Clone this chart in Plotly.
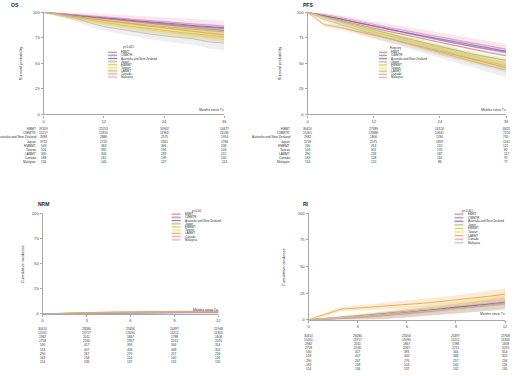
import plotly.graph_objects as go

W, H = 520, 376
FONT = "Liberation Sans, Arial, sans-serif"

REGISTRIES = ["EBMT", "CIBMTR", "Australia and New Zealand", "Japan", "EMBMT",
              "Taiwan", "LABMT", "Canada", "Malaysia"]
COLORS = ["#E8736C", "#7F86C9", "#8E5FA8", "#9DBF6A", "#C9C94A",
          "#F2D36B", "#E9A23B", "#E58FB8", "#B8B8B8"]

# ---------------- OS ----------------
OS_T = [0, 3, 6, 9, 12, 15, 18, 21, 24, 27, 30, 33, 36]
OS_EBMT = [100, 98.5, 96.5, 95, 93.5, 92, 90.5, 89, 87.5, 86, 84.5, 83, 82]
OS_CIBMTR = [100, 99, 97.5, 96, 94.5, 93, 91.5, 90, 89, 87.5, 86.5, 85, 84]
OS_ANZ = [100, 99, 97.5, 96, 95, 93.5, 92, 91, 89.5, 88.5, 87, 86, 85]
OS_JAPAN = [100, 98, 96, 94, 92, 90.5, 89, 87.5, 86, 84.5, 83, 82, 81]
OS_EMBMT = [100, 97.5, 95, 92.5, 90, 88, 86, 84, 82, 80.5, 79, 77.5, 76]
OS_TAIWAN = [100, 97, 94, 91.5, 89, 87, 85, 83, 81, 79.5, 78, 76.5, 75]
OS_LABMT = [100, 98, 96, 94, 92, 90, 88, 86.5, 85, 83, 81, 79.5, 78]
OS_CANADA = [100, 99, 98, 97, 95.5, 94.5, 93, 92, 91, 90, 89, 87.5, 86.5]
OS_MALAYSIA = [100, 98, 95, 90, 86, 83.5, 81, 79, 77, 75.5, 74, 71, 70]

# CI half-widths (percentage points)
HW_S = [0, 0.3, 0.4, 0.5, 0.5, 0.6, 0.6, 0.7, 0.7, 0.8, 0.8, 0.9, 1.0]
HW_M = [0, 0.6, 0.9, 1.1, 1.3, 1.5, 1.7, 1.8, 2.0, 2.1, 2.2, 2.4, 2.5]
HW_L = [0, 1.5, 2.0, 2.5, 3.0, 3.3, 3.6, 3.9, 4.2, 4.4, 4.6, 4.8, 5.0]
HW_XL = [0, 2.0, 3.0, 3.5, 4.0, 4.3, 4.6, 5.0, 5.3, 5.6, 6.0, 6.5, 7.0]

OS_RISK_T = [0, 12, 24, 36]
OS_RISK = [
    [37459, 25253, 16902, 14477],
    [15217, 13310, 11963, 11536],
    [3398, 2886, 2575, 1954],
    [3722, 2720, 2361, 1784],
    [543, 363, 306, 208],
    [524, 395, 196, 103],
    [330, 306, 283, 215],
    [188, 161, 139, 130],
    [156, 146, 127, 113],
]

# ---------------- PFS ----------------
PFS_T = OS_T
PFS_EBMT = [100, 96, 92, 88, 84.5, 81, 77.5, 74, 70.5, 67, 63.5, 60.5, 57.5]
PFS_CIBMTR = [100, 97, 93.5, 90, 86.5, 83, 79.5, 76, 73, 69.5, 66.5, 63.5, 61]
PFS_ANZ = [100, 97, 93.5, 90, 86.5, 83, 80, 77, 74, 71, 68, 65, 62]
PFS_JAPAN = [100, 95.5, 91, 87, 83, 78.5, 74.5, 70.5, 66.5, 62.5, 59, 56, 53]
PFS_EMBMT = [100, 95, 90, 85.5, 81, 76.5, 72, 67.5, 63, 59, 55, 51.5, 48]
PFS_TAIWAN = [100, 95, 90, 85, 80, 76, 72, 68, 64, 60, 56, 52, 49]
PFS_LABMT = [100, 88, 85, 81.5, 78, 74, 70, 66, 62, 58, 54, 50, 46]
PFS_CANADA = [100, 98, 95, 91.5, 88, 85, 82, 79, 76, 73, 70, 67, 64]
PFS_MALAYSIA = [100, 93, 88, 83, 78.5, 74, 69.5, 65, 60.5, 56, 51.5, 47.5, 43.5]

PFS_RISK_T = [0, 12, 24, 36]
PFS_RISK = [
    [30410, 27389, 14124, 8425],
    [15201, 13388, 10641, 7270],
    [2982, 1806, 1196, 730],
    [2758, 2575, 1859, 1141],
    [530, 314, 219, 125],
    [518, 301, 176, 82],
    [290, 258, 187, 117],
    [163, 128, 116, 97],
    [154, 120, 86, 77],
]

# ---------------- NRM ----------------
CI_T = [0, 1, 2, 3, 4, 5, 6, 7, 8, 9, 10, 11, 12]
NRM_EBMT = [0, 0.3, 0.5, 0.7, 0.9, 1.0, 1.2, 1.3, 1.4, 1.5, 1.6, 1.7, 1.8]
NRM_CIBMTR = [0, 0.2, 0.4, 0.6, 0.7, 0.9, 1.0, 1.1, 1.2, 1.3, 1.4, 1.5, 1.6]
NRM_ANZ = [0, 0.2, 0.4, 0.5, 0.7, 0.8, 0.9, 1.0, 1.1, 1.2, 1.3, 1.4, 1.5]
NRM_JAPAN = [0, 0.3, 0.6, 0.8, 1.0, 1.1, 1.3, 1.4, 1.5, 1.6, 1.7, 1.8, 1.9]
NRM_EMBMT = [0, 0.5, 0.9, 1.2, 1.4, 1.6, 1.8, 1.9, 2.0, 2.1, 2.2, 2.3, 2.4]
NRM_TAIWAN = [0, 0.4, 0.8, 1.0, 1.2, 1.4, 1.5, 1.6, 1.7, 1.8, 1.9, 2.0, 2.1]
NRM_LABMT = [0, 0.5, 0.9, 1.2, 1.5, 1.7, 1.9, 2.1, 2.2, 2.3, 2.4, 2.5, 2.6]
NRM_CANADA = [0, 0.2, 0.4, 0.6, 0.8, 1.0, 1.1, 1.2, 1.3, 1.4, 1.5, 1.6, 1.7]
NRM_MALAYSIA = [0, 0.3, 0.6, 0.9, 1.1, 1.3, 1.5, 1.6, 1.8, 1.9, 2.0, 2.1, 2.2]
HW_NRM = [0, 0.3, 0.4, 0.5, 0.6, 0.7, 0.8, 0.8, 0.9, 0.9, 1.0, 1.0, 1.1]

CI_RISK_T = [0, 3, 6, 9, 12]
CI_RISK = [
    [30410, 28280, 25656, 24497, 21908],
    [15201, 13717, 13090, 11212, 11303],
    [2982, 2011, 1867, 1788, 1608],
    [2758, 2530, 2367, 2213, 2070],
    [530, 417, 393, 344, 314],
    [518, 407, 406, 348, 302],
    [290, 267, 276, 257, 234],
    [163, 158, 154, 140, 126],
    [154, 136, 137, 132, 130],
]

# ---------------- RI ----------------
RI_EBMT = [0, 0.5, 1.5, 2.5, 4, 5.5, 7, 8, 9.5, 11, 12.5, 14, 15.5]
RI_CIBMTR = [0, 1, 2, 3.5, 5, 6.5, 8, 9, 10.5, 12, 13, 14.5, 16]
RI_ANZ = [0, 0.5, 1.5, 3, 4.5, 6, 7.5, 9, 10, 11.5, 13, 14.5, 16]
RI_JAPAN = [0, 0.5, 1.5, 2.5, 3.5, 5, 6, 7.5, 9, 10.5, 12, 13.5, 15]
RI_EMBMT = [0, 0.5, 1, 2, 3, 4.5, 6, 7.5, 9, 10.5, 12, 13.5, 15]
RI_TAIWAN = [0, 1, 2, 3, 4.5, 6, 7.5, 9, 11, 13, 15, 17, 20]
RI_LABMT = [0, 5, 10, 11, 12, 13, 14, 15.5, 17, 18.5, 20, 22, 24]
RI_CANADA = [0, 0, 1, 2, 3, 4, 5.5, 7, 8.5, 10, 12, 14, 16]
RI_MALAYSIA = [0, 0.5, 1.5, 2.5, 3.5, 5, 6.5, 8, 9, 10.5, 12, 13.5, 14.5]
HW_RI_S = [0, 0.3, 0.5, 0.6, 0.7, 0.8, 0.9, 1.0, 1.1, 1.2, 1.3, 1.4, 1.5]
HW_RI_L = [0, 1.5, 2.0, 2.5, 3.0, 3.3, 3.6, 3.9, 4.2, 4.5, 4.8, 5.2, 5.5]

PANELS = [
    dict(name="OS", t=OS_T,
         est=[OS_EBMT, OS_CIBMTR, OS_ANZ, OS_JAPAN, OS_EMBMT, OS_TAIWAN, OS_LABMT, OS_CANADA, OS_MALAYSIA],
         hw=[HW_S, HW_S, HW_M, HW_M, HW_L, HW_L, HW_L, HW_L, HW_XL],
         risk_t=OS_RISK_T, risk=OS_RISK, xticks=[0, 12, 24, 36],
         ytitle="Survival probability", ptext="p<0.001"),
    dict(name="PFS", t=PFS_T,
         est=[PFS_EBMT, PFS_CIBMTR, PFS_ANZ, PFS_JAPAN, PFS_EMBMT, PFS_TAIWAN, PFS_LABMT, PFS_CANADA, PFS_MALAYSIA],
         hw=[HW_S, HW_S, HW_M, HW_M, HW_L, HW_L, HW_L, HW_L, HW_XL],
         risk_t=PFS_RISK_T, risk=PFS_RISK, xticks=[0, 12, 24, 36],
         ytitle="Survival probability", ptext="Registry"),
    dict(name="NRM", t=CI_T,
         est=[NRM_EBMT, NRM_CIBMTR, NRM_ANZ, NRM_JAPAN, NRM_EMBMT, NRM_TAIWAN, NRM_LABMT, NRM_CANADA, NRM_MALAYSIA],
         hw=[HW_NRM] * 9,
         risk_t=CI_RISK_T, risk=CI_RISK, xticks=[0, 3, 6, 9, 12],
         ytitle="Cumulative incidence", ptext="p<0.01"),
    dict(name="RI", t=CI_T,
         est=[RI_EBMT, RI_CIBMTR, RI_ANZ, RI_JAPAN, RI_EMBMT, RI_TAIWAN, RI_LABMT, RI_CANADA, RI_MALAYSIA],
         hw=[HW_RI_S, HW_RI_S, HW_RI_S, HW_RI_S, HW_RI_L, HW_RI_L, HW_RI_L, HW_RI_L, HW_RI_L],
         risk_t=CI_RISK_T, risk=CI_RISK, xticks=[0, 3, 6, 9, 12],
         ytitle="Cumulative incidence", ptext="p<0.001"),
]

# pixel layout per panel
GEOM = [
    dict(l=43, r=225, t=9.5, b=113, title=(8, 2), ytx=20,
         risk_y=(128, 161), labels=True, lab_x=37, months=(227, 108),
         leg=dict(p=(128, 45), y0=50, y1=75, lx0=108, lx1=117, tx=119)),
    dict(l=309, r=509, t=9.5, b=113, title=(302, 2), ytx=281,
         risk_y=(128, 161), labels=True, lab_x=293, months=(511, 108),
         leg=dict(p=(398, 46), y0=50, y1=75.5, lx0=381, lx1=389, tx=391)),
    dict(l=42, r=219, t=213, b=315, title=(35, 204), ytx=22,
         risk_y=(330, 364), labels=False, lab_x=0, months=(221, 311),
         leg=dict(p=(198, 211), y0=214, y1=240, lx0=172, lx1=181, tx=183)),
    dict(l=310, r=508, t=213, b=321, title=(302, 204), ytx=285,
         risk_y=(337, 371), labels=False, lab_x=0, months=(510, 315),
         leg=dict(p=(470, 211), y0=214, y1=243, lx0=457, lx1=466, tx=469)),
]


def px(x):
    return x / W


def py(y):
    return 1 - y / H


def rgba(hexc, a):
    h = hexc.lstrip("#")
    return "rgba(%d,%d,%d,%g)" % (int(h[0:2], 16), int(h[2:4], 16), int(h[4:6], 16), a)


fig = go.Figure()
ann = []
shapes = []
AX = "#a8a8a8"
TXT = "#4d4d4d"

for i, (p, g) in enumerate(zip(PANELS, GEOM)):
    k = "" if i == 0 else str(i + 1)
    xa, ya = "x" + k, "y" + k
    xmax = p["xticks"][-1]
    for j, (est, hw) in enumerate(zip(p["est"], p["hw"])):
        lo = [max(0, e - h) for e, h in zip(est, hw)]
        hi = [min(100, e + h) for e, h in zip(est, hw)]
        fig.add_trace(go.Scatter(x=p["t"], y=lo, xaxis=xa, yaxis=ya, mode="lines",
                                 line=dict(width=0, color=COLORS[j]), showlegend=False,
                                 hoverinfo="skip"))
        fig.add_trace(go.Scatter(x=p["t"], y=hi, xaxis=xa, yaxis=ya, mode="lines",
                                 line=dict(width=0, color=COLORS[j]), fill="tonexty",
                                 fillcolor=rgba(COLORS[j], 0.22), showlegend=False,
                                 hoverinfo="skip"))
    for j, est in enumerate(p["est"]):
        fig.add_trace(go.Scatter(x=p["t"], y=est, xaxis=xa, yaxis=ya, mode="lines",
                                 line=dict(width=0.8, color=COLORS[j]), showlegend=False,
                                 name=REGISTRIES[j]))

    axcommon = dict(showgrid=False, zeroline=False, showline=True, linecolor=AX,
                    linewidth=1.2, ticks="outside", ticklen=2, tickwidth=0.8,
                    tickcolor=AX, tickfont=dict(size=4.2, color=TXT, family=FONT))
    fig.update_layout(**{
        ("xaxis" + k): dict(domain=[px(g["l"]), px(g["r"])], range=[0, xmax],
                            tickvals=p["xticks"], anchor=ya, **axcommon),
        ("yaxis" + k): dict(domain=[py(g["b"]), py(g["t"])], range=[0, 100],
                            tickvals=[0, 25, 50, 75, 100], anchor=xa, **axcommon),
    })

    ann.append(dict(text="<b>%s</b>" % p["name"], x=px(g["title"][0]), y=py(g["title"][1]),
                    xref="paper", yref="paper", xanchor="left", yanchor="middle",
                    showarrow=False, font=dict(size=5, color="#222", family=FONT)))
    ann.append(dict(text=p["ytitle"], x=px(g["ytx"]), y=py((g["t"] + g["b"]) / 2),
                    xref="paper", yref="paper", textangle=-90, showarrow=False,
                    xanchor="center", yanchor="middle",
                    font=dict(size=4, color="#333", family=FONT)))
    ann.append(dict(text="Months since Tx", x=px(g["months"][0]), y=py(g["months"][1]),
                    xref="paper", yref="paper", xanchor="right", yanchor="middle",
                    showarrow=False, font=dict(size=3.4, color="#333", family=FONT)))
    ry0, ry1 = g["risk_y"]
    step = (ry1 - ry0) / 8
    for r, row in enumerate(p["risk"]):
        yy = py(ry0 + r * step)
        if g["labels"]:
            ann.append(dict(text=REGISTRIES[r], x=px(g["lab_x"]), y=yy, xref="paper",
                            yref="paper", xanchor="right", yanchor="middle", showarrow=False,
                            font=dict(size=3.2, color="#333", family=FONT)))
        for tt, v in zip(p["risk_t"], row):
            ann.append(dict(text=str(v), x=tt, y=yy, xref=xa, yref="paper",
                            xanchor="center", yanchor="middle", showarrow=False,
                            font=dict(size=3.2, color="#333", family=FONT)))
    lg = g["leg"]
    ann.append(dict(text=p["ptext"], x=px(lg["p"][0]), y=py(lg["p"][1]), xref="paper",
                    yref="paper", xanchor="center", yanchor="middle", showarrow=False,
                    font=dict(size=3, color="#333", family=FONT)))
    lstep = (lg["y1"] - lg["y0"]) / 8
    for j, name in enumerate(REGISTRIES):
        yy = lg["y0"] + j * lstep
        shapes.append(dict(type="rect", xref="paper", yref="paper",
                           x0=px(lg["lx0"]), x1=px(lg["lx1"]),
                           y0=py(yy + 1.3), y1=py(yy - 1.3),
                           fillcolor=rgba(COLORS[j], 0.2), line=dict(width=0)))
        shapes.append(dict(type="line", xref="paper", yref="paper",
                           x0=px(lg["lx0"]), x1=px(lg["lx1"]), y0=py(yy), y1=py(yy),
                           line=dict(color=COLORS[j], width=0.8)))
        ann.append(dict(text=name, x=px(lg["tx"]), y=py(yy), xref="paper", yref="paper",
                        xanchor="left", yanchor="middle", showarrow=False,
                        font=dict(size=3, color="#333", family=FONT)))

fig.update_layout(width=W, height=H, autosize=False, margin=dict(l=0, r=0, t=0, b=0),
                  paper_bgcolor="white", plot_bgcolor="white", showlegend=False,
                  annotations=ann, shapes=shapes, font=dict(family=FONT))
fig.write_html("out.html", config={"displayModeBar": False},
               post_script="document.body.style.margin='0';document.body.style.overflow='hidden';")
